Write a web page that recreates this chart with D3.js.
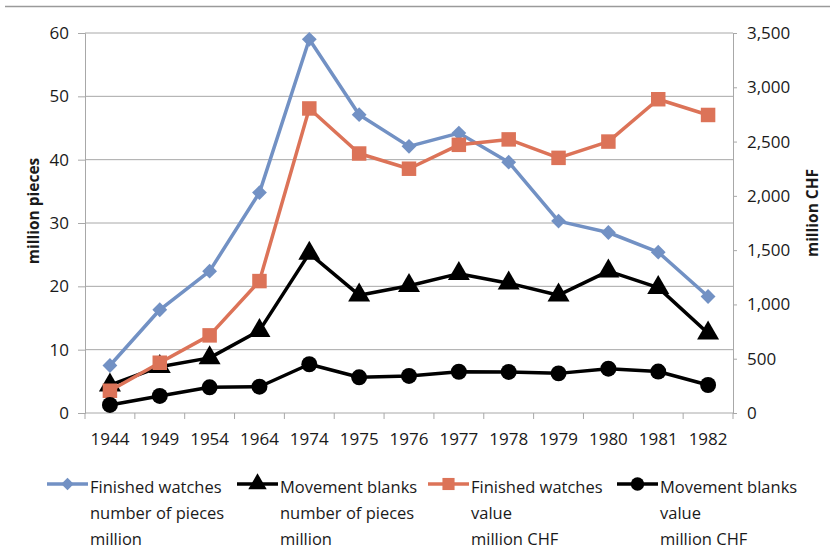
<!DOCTYPE html>
<html>
<head>
<meta charset="utf-8">
<script src="https://cdn.jsdelivr.net/npm/d3@7"></script>
<style>
  body { margin: 0; background: #fff; }
  svg text { font-family: "Open Sans", sans-serif; fill: #1a1a1a; }
</style>
</head>
<body>
<div id="chart"></div>
<script>
const years = ["1944", "1949", "1954", "1964", "1974", "1975", "1976", "1977", "1978", "1979", "1980", "1981", "1982"];
// left axis, million pieces
const watchPieces = [7.5, 16.3, 22.4, 34.8, 59.0, 47.1, 42.1, 44.2, 39.6, 30.3, 28.5, 25.4, 18.4];
const blankPieces = [4.4, 7.3, 8.7, 13.0, 25.2, 18.6, 20.1, 22.0, 20.5, 18.6, 22.4, 19.8, 12.6];
// right axis, million CHF
const watchValue = [205, 463, 715, 1215, 2805, 2390, 2250, 2470, 2520, 2350, 2500, 2890, 2745];
const blankValue = [74, 157, 237, 242, 449, 329, 341, 380, 378, 365, 408, 382, 258];
const leftTicks = [0, 10, 20, 30, 40, 50, 60];
const rightTicks = [0, 500, 1000, 1500, 2000, 2500, 3000, 3500];

const w = 830, h = 551;
const padL = 85, padR = 733, padT = 33, padB = 413;

const svg = d3.select("#chart").append("svg")
  .attr("width", w)
  .attr("height", h);

// frame line at the top
svg.append("line")
  .attr("x1", 5).attr("x2", w).attr("y1", 6.5).attr("y2", 6.5)
  .attr("stroke", "#9a9a9a").attr("stroke-width", 1.5);

const x = d3.scaleBand().domain(years).range([padL, padR]);
const yL = d3.scaleLinear().domain([0, 60]).range([padB, padT]);
const yR = d3.scaleLinear().domain([0, 3500]).range([padB, padT]);

// gridlines
svg.append("g").selectAll("line")
  .data(leftTicks.filter(d => d > 0))
  .enter().append("line")
  .attr("x1", padL).attr("x2", padR)
  .attr("y1", d => yL(d)).attr("y2", d => yL(d))
  .attr("stroke", "#a8a8a8").attr("stroke-width", 1);

const yAxisL = d3.axisLeft(yL).tickValues(leftTicks).tickSize(7).tickPadding(9);
const gl = svg.append("g").attr("transform", "translate(" + padL + ",0)").call(yAxisL);

const yAxisR = d3.axisRight(yR).tickValues(rightTicks).tickSize(4).tickPadding(10)
  .tickFormat(d3.format(","));
const gr = svg.append("g").attr("transform", "translate(" + padR + ",0)").call(yAxisR);

const xAxis = d3.axisBottom(x).tickSize(0).tickPadding(20);
const gx = svg.append("g").attr("transform", "translate(0," + padB + ")").call(xAxis);
// category boundary ticks
gx.selectAll(".bt").data(d3.range(years.length + 1)).enter().append("line")
  .attr("x1", i => padL + i * x.step()).attr("x2", i => padL + i * x.step())
  .attr("y1", 0).attr("y2", 6)
  .attr("stroke", "#a8a8a8");

[gl, gr, gx].forEach(g => {
  g.select(".domain").attr("stroke", "#a8a8a8");
  g.selectAll(".tick line").attr("stroke", "#a8a8a8");
  g.selectAll("text").style("font-size", "17px").attr("fill", "#1a1a1a")
    .style("font-family", "'Open Sans', sans-serif");
});
gx.select(".domain").attr("d", "M" + padL + ",0H" + padR);

// axis titles
svg.append("text")
  .attr("transform", "translate(39,211) rotate(-90)")
  .attr("text-anchor", "middle")
  .style("font-size", "15.5px").style("font-weight", "bold")
  .text("million pieces");
svg.append("text")
  .attr("transform", "translate(818,213) rotate(-90)")
  .attr("text-anchor", "middle")
  .style("font-size", "15.5px").style("font-weight", "bold")
  .text("million CHF");

const series = [
  { name: ["Finished watches", "number of pieces", "million"], data: watchPieces, y: yL, color: "#7291c4", shape: d3.symbolSquare, rot: 45, size: 110, lx: 47 },
  { name: ["Movement blanks", "number of pieces", "million"], data: blankPieces, y: yL, color: "#000", shape: d3.symbolTriangle, rot: 0, size: 210, lx: 237 },
  { name: ["Finished watches", "value", "million CHF"], data: watchValue, y: yR, color: "#dc7358", shape: d3.symbolSquare, rot: 0, size: 210, lx: 428 },
  { name: ["Movement blanks", "value", "million CHF"], data: blankValue, y: yR, color: "#000", shape: d3.symbolCircle, rot: 0, size: 200, lx: 617 }
];

const line = (ys) => d3.line()
  .x((d, i) => x(years[i]) + x.bandwidth() / 2)
  .y(d => ys(d));

series.forEach(s => {
  svg.append("path")
    .datum(s.data)
    .attr("d", line(s.y))
    .attr("fill", "none")
    .attr("stroke", s.color)
    .attr("stroke-width", 3.5)
    .attr("stroke-linejoin", "round");
  svg.append("g").selectAll("path")
    .data(s.data)
    .enter().append("path")
    .attr("d", d3.symbol().type(s.shape).size(s.size))
    .attr("transform", (d, i) => "translate(" + (x(years[i]) + x.bandwidth() / 2) + "," + s.y(d) + ") rotate(" + s.rot + ")")
    .attr("fill", s.color);
});

// legend
const lg = svg.append("g");
series.forEach(s => {
  lg.append("line")
    .attr("x1", s.lx).attr("x2", s.lx + 41)
    .attr("y1", 484).attr("y2", 484)
    .attr("stroke", s.color).attr("stroke-width", 3.5);
  lg.append("path")
    .attr("d", d3.symbol().type(s.shape).size(s.size * 0.7))
    .attr("transform", "translate(" + (s.lx + 20.5) + ",484) rotate(" + s.rot + ")")
    .attr("fill", s.color);
  s.name.forEach((t, k) => {
    lg.append("text")
      .attr("x", s.lx + 43)
      .attr("y", 493 + k * 26)
      .style("font-size", "16.5px")
      .text(t);
  });
});
</script>
</body>
</html>
